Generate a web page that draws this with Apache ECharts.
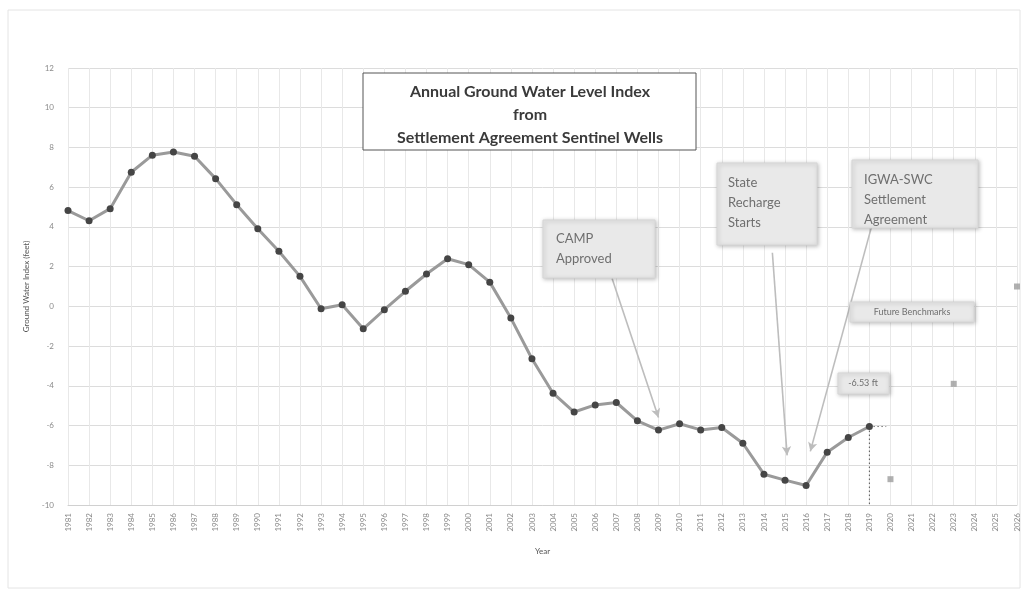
<!DOCTYPE html>
<html>
<head>
<meta charset="utf-8">
<script src="https://cdn.jsdelivr.net/npm/echarts@6/dist/echarts.min.js"></script>
<style>html,body{margin:0;padding:0;background:#fff}#c{width:1026px;height:594px}</style>
</head>
<body>
<div id="c"></div>
<script>
var years = [1981,1982,1983,1984,1985,1986,1987,1988,1989,1990,1991,1992,1993,1994,1995,1996,1997,1998,1999,2000,2001,2002,2003,2004,2005,2006,2007,2008,2009,2010,2011,2012,2013,2014,2015,2016,2017,2018,2019];
var indexValues = [4.82,4.31,4.92,6.75,7.61,7.77,7.56,6.43,5.12,3.91,2.77,1.51,-0.12,0.08,-1.13,-0.17,0.76,1.63,2.40,2.10,1.22,-0.59,-2.64,-4.37,-5.32,-4.96,-4.84,-5.76,-6.23,-5.91,-6.22,-6.10,-6.89,-8.45,-8.75,-9.02,-7.34,-6.60,-6.05];
var benchmarkYears = [2020, 2023, 2026];
var benchmarkValues = [-8.7, -3.9, 1.0];
var arrows = [
  {from:[2006.8, 1.4], to:[2009.0, -5.6]},
  {from:[2014.4, 2.7], to:[2015.1, -7.5]},
  {from:[2019.1, 4.0], to:[2016.2, -7.3]}
];

var mainData = years.map(function(y,i){return [y, indexValues[i]];});
var benchData = benchmarkYears.map(function(y,i){return [y, benchmarkValues[i]];});
var lastVal = indexValues[indexValues.length-1];

var chart = echarts.init(document.getElementById('c'));
var boxStyle = {fill:'#e9e9e9', stroke:'#d6d6d6', lineWidth:1, shadowBlur:4, shadowColor:'rgba(0,0,0,0.25)', shadowOffsetX:1, shadowOffsetY:1};
var noteFont = {fontFamily:'Lato', fontSize:13, fill:'#6f6f6f', lineHeight:20};

chart.setOption({
  animation:false,
  backgroundColor:'#fff',
  grid:{left:68, right:9, top:68, bottom:89},
  xAxis:{
    type:'value', min:1981, max:2026, interval:1,
    name:'Year', nameLocation:'middle', nameGap:42,
    nameTextStyle:{fontSize:8, color:'#555', fontFamily:'Lato'},
    axisLine:{show:true, onZero:false, lineStyle:{color:'#d0d0d0'}},
    axisTick:{show:false},
    axisLabel:{rotate:90, fontSize:8, color:'#8a8a8a', fontFamily:'Lato', formatter:function(v){return String(v);}},
    splitLine:{show:true, lineStyle:{color:'#e8e8e8'}}
  },
  yAxis:{
    type:'value', min:-10, max:12, interval:2,
    name:'Ground Water Index (feet)', nameLocation:'middle', nameGap:34,
    nameTextStyle:{fontSize:8, color:'#555', fontFamily:'Lato'},
    axisLine:{show:false}, axisTick:{show:false},
    axisLabel:{fontSize:8, color:'#8a8a8a', fontFamily:'Lato', margin:14},
    splitLine:{show:true, lineStyle:{color:'#dcdcdc'}}
  },
  series:[
    {
      type:'line', data:mainData, symbol:'circle', symbolSize:7,
      lineStyle:{color:'#9a9a9a', width:3},
      itemStyle:{color:'#454545'},
      z:3,
      markLine:{
        silent:true, symbol:['none','arrow'], symbolSize:[7,9],
        label:{show:false},
        lineStyle:{color:'#bdbdbd', width:1.6, type:'solid'},
        data: arrows.map(function(a){return [{coord:a.from},{coord:a.to}];})
      }
    },
    {
      type:'line', data:[[2019, lastVal],[2019,-10]],
      symbol:'none', lineStyle:{color:'#555', width:1, type:[1.5,2.5]}, z:2
    },
    {
      type:'line', data:[[2019, lastVal],[2019.8, lastVal]],
      symbol:'none', lineStyle:{color:'#777', width:1, type:[1.5,2.5]}, z:2
    },
    {
      type:'scatter', data:benchData, symbol:'rect', symbolSize:6,
      itemStyle:{color:'#9c9c9c'}, z:4
    }
  ],
  graphic:[
    {type:'rect', shape:{x:8, y:10, width:1012, height:578}, style:{fill:'none', stroke:'#e4e4e4', lineWidth:1}, silent:true, z:-1},
    {type:'rect', shape:{x:363, y:73, width:333, height:77}, style:{fill:'#fff', stroke:'#555', lineWidth:1}, z:10},
    {type:'text', x:530, y:80, style:{text:'Annual Ground Water Level Index\nfrom\nSettlement Agreement Sentinel Wells', fontFamily:'Lato', fontWeight:'bold', fontSize:16, fill:'#3a3a3a', align:'center', lineHeight:23}, z:11},
    {type:'rect', shape:{x:543, y:220, width:112, height:58}, style:boxStyle, z:10},
    {type:'text', x:556, y:229, style:Object.assign({text:'CAMP\nApproved'}, noteFont), z:11},
    {type:'rect', shape:{x:717, y:163, width:100, height:82}, style:boxStyle, z:10},
    {type:'text', x:728, y:173, style:Object.assign({text:'State\nRecharge\nStarts'}, noteFont), z:11},
    {type:'rect', shape:{x:852, y:160, width:126, height:68}, style:boxStyle, z:10},
    {type:'text', x:864, y:170, style:Object.assign({text:'IGWA-SWC\nSettlement\nAgreement'}, noteFont), z:11},
    {type:'rect', shape:{x:850, y:302, width:124, height:20}, style:boxStyle, z:10},
    {type:'text', x:912, y:312, style:{text:'Future Benchmarks', fontFamily:'Lato', fontSize:9, fill:'#6f6f6f', align:'center', verticalAlign:'middle'}, z:11},
    {type:'rect', shape:{x:838, y:373, width:51, height:21}, style:boxStyle, z:10},
    {type:'text', x:863, y:383, style:{text:'-6.53 ft', fontFamily:'Lato', fontSize:9, fill:'#6f6f6f', align:'center', verticalAlign:'middle'}, z:11}
  ]
});
</script>
</body>
</html>
